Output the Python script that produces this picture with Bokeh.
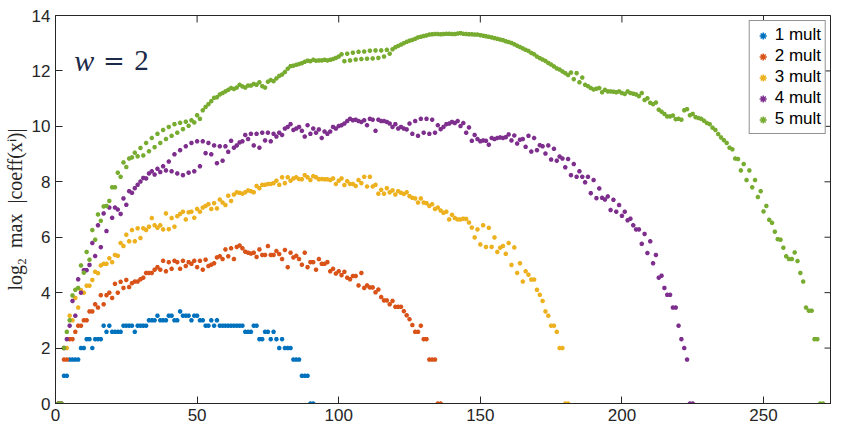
import math
from bokeh.plotting import figure
from bokeh.models import Range1d, FixedTicker, Legend, LegendItem, Label, ColumnDataSource
from bokeh.embed import file_html
from bokeh.resources import INLINE

# ---------------- data ----------------
x_ticks = [0, 50, 100, 150, 200, 250]
y_ticks = [0, 2, 4, 6, 8, 10, 12, 14]
series_names = ["1 mult", "2 mult", "3 mult", "4 mult", "5 mult"]
series_colors = ["#0072BD", "#D95319", "#EDB120", "#7E2F8E", "#77AC30"]

mult1 = [0, 0, 1, 1, 1.585, 1.585, 1.585, 1.585, 2, 2,
         2.322, 2.322, 2, 2.322, 2.322, 2.322, 2.807, 2.585, 2.807, 2.585,
         2.585, 2.585, 2.585, 2.807, 2.807, 2.807, 2.807, 2.585, 2.807, 2.807,
         2.807, 2.807, 3, 3, 3, 3.17, 3, 3, 3, 3.17,
         3.17, 3, 3, 3.322, 3.17, 3.17, 3.17, 3, 3.17, 3.17,
         3, 3, 2.807, 2.807, 3, 2.807, 3, 2.807, 2.807, 2.807,
         2.807, 2.807, 2.807, 2.807, 2.807, 2.807, 2.585, 2.585, 2.585, 2.807,
         2.807, 2.322, 2.322, 2.585, 2.585, 2.322, 2.585, 2.322, 2, 2.322,
         2, 2, 2, 1.585, 1.585, 1.585, 1, 1, 1, 0,
         0]

mult2 = [0, 0, 1.585, 1.585, 2.322, 2.322, 2.585, 2.807, 2.807, 3.0,
         3.0, 3.322, 3.322, 3.58, 3.46, 3.91, 3.58, 3.91, 4.0, 3.81,
         4.32, 4.0, 4.39, 4.17, 4.46,
         4.20, 4.34, 4.40, 4.40, 4.48, 4.54, 4.71, 4.71, 4.71, 4.83,
         4.92, 4.83, 5.15, 4.77, 5.10, 4.86, 5.15, 5.10, 4.86, 5.15,
         4.96, 5.10, 5.04, 5.15, 4.92, 5.15, 4.83, 5.19, 4.96, 5.01,
         5.06, 5.27, 5.31, 5.21, 5.56, 5.31, 5.60, 5.21, 5.65, 5.70,
         5.60, 5.48, 5.44, 5.41, 5.44, 5.29, 5.56, 5.36, 5.36, 5.68,
         5.36, 5.36, 5.50, 5.39, 5.21, 5.54, 4.92, 5.44, 5.27, 5.33,
         5.21, 5.01, 5.44, 4.92, 5.10, 5.10, 4.83, 5.21, 5.04, 5.04,
         5.10, 4.77, 4.86, 4.69, 4.77, 4.63, 4.75, 4.54, 4.48, 4.60,
         4.60, 4.26, 4.71, 4.17, 4.26, 4.19, 4.19, 4.01, 4.11, 3.84,
         3.72, 3.72, 3.58, 3.70, 3.49, 3.49, 3.49, 3.33, 3.18, 3.04,
         2.83, 2.585, 2.585, 2.807, 2.322, 2.322,
         1.585, 1.585, 1.585, 0, 0]

mult3 = [0, 0, 2.0, 2.0, 3.17, 3.0, 3.81, 3.46, 4.09, 4.0,
         4.25, 4.25, 4.46, 4.75, 4.70,
         4.98, 5.04, 5.04, 5.24, 5.10, 5.36, 5.33, 5.79, 5.68, 6.09,
         5.85, 6.26, 5.85, 6.32, 5.97, 6.32, 6.26, 6.38, 6.69, 6.43,
         6.34, 6.43, 6.28, 6.86, 6.29, 6.69, 6.38, 6.76, 6.84, 6.92,
         6.64, 6.90, 6.92, 6.70, 7.02, 6.92, 7.07, 7.13, 7.19, 7.02,
         7.23, 7.04, 7.36, 7.25, 7.16, 7.50, 7.31, 7.54, 7.62, 7.60,
         7.57, 7.62, 7.69, 7.66, 7.62, 7.85, 7.77, 7.89, 7.89, 7.92,
         7.92, 7.95, 8.04, 7.89, 8.16, 7.95, 8.16, 8.04, 8.12, 8.16,
         8.10, 8.09, 8.24, 8.16, 8.06, 8.20, 8.16, 8.09, 8.10, 8.09,
         8.09, 8.06, 8.12, 7.92, 8.04, 8.12, 7.88, 8.02, 7.92, 7.92,
         7.85, 8.06, 7.95, 8.18, 7.83, 8.18, 7.83, 7.89, 7.57, 7.71,
         7.57, 7.77, 7.62, 7.69, 7.54, 7.66, 7.60, 7.56, 7.62, 7.48,
         7.42, 7.40, 7.25, 7.40, 7.25, 7.23, 7.13, 7.19, 7.02, 7.07,
         6.96, 6.88, 6.92, 6.64, 6.81, 6.69, 6.64, 6.64, 6.67,
         6.66, 6.53, 6.35, 5.99, 6.28, 5.74, 6.43, 5.65, 6.34, 5.65,
         5.99, 5.47, 5.62, 5.68, 5.40, 5.79, 5.00, 5.63, 4.71, 5.06,
         4.40, 4.77, 4.65, 4.47, 4.47, 4.10, 3.92, 3.70, 3.322, 3.17,
         2.807, 2.807, 2.585, 2.0, 2.0,
         0, 0]

mult4 = [0, 0, 2.0, 2.322, 2.807, 3.7, 3.17, 4.48, 4.0, 4.81,
         4.81, 5.0, 5.79, 5.32, 6.43, 5.64, 6.86, 6.22, 7.07, 6.70,
         7.07, 7.0, 6.84, 7.40, 7.17, 7.66,
         7.60, 7.77, 7.89, 8.01, 8.14, 8.12, 8.30, 8.38, 8.26, 8.47,
         8.35, 8.56, 8.41, 8.73, 8.38, 8.99, 8.30, 9.14, 8.24, 9.28,
         8.33, 9.40, 8.38, 9.46, 8.56, 9.46, 9.03, 9.40, 8.99, 9.31,
         8.67, 9.28, 8.76, 9.28, 9.08, 9.48, 9.23, 9.31, 9.42, 9.46,
         9.69, 9.54, 9.73, 9.31, 9.73, 9.23, 9.77, 9.49, 9.77, 9.46,
         9.73, 9.63, 9.77, 9.69, 9.92, 9.98, 10.08, 9.87, 9.92, 9.98,
         9.84, 9.63, 10.04, 9.73, 9.92, 9.77, 9.89, 9.58, 9.81, 9.73,
         9.81, 9.98, 9.92, 10.01, 10.04, 10.10, 10.19, 10.27, 10.22, 10.24,
         10.19, 10.16, 10.22, 10.04, 10.27, 10.24, 9.84, 10.24, 10.19, 10.19,
         10.16, 10.10, 9.98, 10.08, 9.92, 9.98, 9.92, 9.89, 10.10, 9.73,
         10.19, 9.66, 10.27, 9.77, 10.27, 9.73, 10.24, 9.77,
         10.04, 9.90, 9.98, 10.08, 10.10, 10.16, 10.12, 10.19, 10.01, 10.12,
         9.77, 9.96, 9.48, 9.69, 9.54, 9.46, 9.49, 9.48, 9.34, 9.58,
         9.54, 9.58, 9.60, 9.58, 9.61, 9.71, 9.49, 9.67, 9.38, 9.52,
         9.54, 9.26, 9.66, 9.09, 9.58, 9.14, 9.32, 9.28, 9.02, 9.31,
         8.80, 9.19, 8.76, 8.91, 8.84, 8.52, 8.82, 8.24, 8.64, 8.18,
         8.38, 8.18, 7.98, 8.18, 7.59, 8.06, 7.41, 7.76, 7.42, 7.36,
         7.47, 6.98, 7.35, 6.92, 7.16, 6.77, 6.92, 6.61, 6.67, 6.43,
         6.28, 6.28, 5.76, 6.12, 5.43, 5.85, 5.06, 5.36, 4.54, 4.61,
         4.17, 3.92, 3.92, 3.46, 3.46, 2.807, 2.322, 2.0, 1.585,
         0, 0]

mult5 = [0, 0, 2.0, 2.585, 3.0, 3.9, 4.1, 4.17, 4.98, 4.72,
         5.47, 5.19, 6.26, 5.91, 6.82, 6.59, 7.11, 7.13, 7.31, 7.80,
         7.80, 8.33, 8.18, 8.70,
         8.53, 8.84, 8.88, 9.05, 8.92, 9.22, 8.95, 9.40, 9.10, 9.58,
         9.25, 9.73, 9.40, 9.87, 9.54, 9.98, 9.66, 10.08, 9.77, 10.13,
         9.90, 10.17, 10.02, 10.22, 10.14, 10.40, 10.27, 10.58, 10.70, 10.80,
         10.91, 11.03, 11.05, 11.15, 11.20, 11.26,
         11.32, 11.38, 11.35, 11.40, 11.50, 11.44, 11.40, 11.47, 11.47, 11.53,
         11.50, 11.59, 11.45, 11.40, 11.61, 11.67, 11.63, 11.73, 11.82, 11.87,
         11.96, 12.08, 12.17, 12.19, 12.22,
         12.25, 12.28, 12.33, 12.37, 12.35, 12.40, 12.37, 12.38, 12.38, 12.40,
         12.38, 12.40, 12.43, 12.47, 12.52,
         12.60, 12.35, 12.62, 12.38, 12.66, 12.41, 12.69, 12.43, 12.70, 12.44,
         12.73, 12.45, 12.74, 12.47, 12.74, 12.52, 12.76, 12.62, 12.78,
         12.85, 12.90, 12.95, 13.00, 13.05, 13.09, 13.12, 13.16, 13.21, 13.23,
         13.26, 13.28, 13.31, 13.32, 13.33, 13.33, 13.32, 13.33, 13.34, 13.34,
         13.33, 13.33, 13.35, 13.36, 13.34, 13.33, 13.32, 13.32, 13.31, 13.31,
         13.29, 13.27, 13.25, 13.23, 13.21, 13.18, 13.16, 13.13, 13.11, 13.07,
         13.04, 13.01, 12.96, 12.91, 12.86, 12.81, 12.76, 12.72, 12.65, 12.60,
         12.52, 12.46, 12.41, 12.36, 12.29, 12.23, 12.16, 12.09, 12.05, 11.98,
         11.92, 11.85,
         11.94, 11.70, 11.92, 11.59, 11.76, 11.50, 11.45, 11.38,
         11.33, 11.36, 11.38, 11.23, 11.32, 11.26, 11.26, 11.25, 11.23, 11.26,
         11.20, 11.17, 11.26, 11.20, 11.18, 11.15, 11.09, 11.20, 10.95, 11.01,
         10.85, 10.80, 10.86, 10.60, 10.53, 10.45, 10.36, 10.36, 10.39, 10.26,
         10.27, 10.24, 10.58, 10.62, 10.40, 10.45, 10.33, 10.30, 10.27, 10.20,
         10.12, 10.08, 9.95, 9.87, 9.72, 9.60, 9.50, 9.40, 9.23, 9.17,
         8.84, 8.82, 8.41, 8.64, 8.06, 8.41, 7.80, 8.06, 7.45, 7.66,
         6.93, 7.13, 6.63, 6.52, 6.20, 5.93, 5.91, 5.62, 5.31, 5.21,
         5.21, 5.45, 5.14, 4.71, 4.40, 3.46, 3.35, 3.35, 2.322, 2.322,
         0, 0]

all_series = [mult1, mult2, mult3, mult4, mult5]

# ---------------- figure ----------------
AX = "#262626"
X_MAX, Y_MAX = 274, 14
p = figure(width=831, height=423, output_backend="svg", toolbar_location=None,
           x_range=Range1d(0, X_MAX), y_range=Range1d(0, Y_MAX),
           min_border_left=50, min_border_right=0, min_border_top=15, min_border_bottom=20)
p.xgrid.visible = False
p.ygrid.visible = False
p.outline_line_color = AX
p.outline_line_width = 1
p.background_fill_color = "white"
p.border_fill_color = "white"

for ax, ticks in ((p.xaxis[0], x_ticks), (p.yaxis[0], y_ticks)):
    ax.ticker = FixedTicker(ticks=ticks)
    ax.major_tick_in = 7
    ax.major_tick_out = 0
    ax.minor_tick_line_color = None
    ax.axis_line_color = AX
    ax.major_tick_line_color = AX
    ax.major_label_text_font = "Liberation Sans"
    ax.major_label_text_color = AX
    ax.major_label_text_font_size = "17px"
    ax.major_label_standoff = 5

p.yaxis[0].axis_label = "log\u2082\u2002max\u2002|coeff(x\u2071)|"
p.yaxis[0].axis_label_text_font = "Liberation Serif"
p.yaxis[0].axis_label_text_font_style = "normal"
p.yaxis[0].axis_label_text_font_size = "20px"
p.yaxis[0].axis_label_text_color = AX
p.yaxis[0].axis_label_standoff = 3

# inward tick marks on the top and right edges of the box
p.ray(x=x_ticks, y=[Y_MAX] * len(x_ticks), length=7, length_units="screen",
      angle=-math.pi / 2, line_color=AX, line_width=1)
p.ray(x=[X_MAX] * len(y_ticks), y=y_ticks, length=7, length_units="screen",
      angle=math.pi, line_color=AX, line_width=1)

renderers = []
for ys, c in zip(all_series, series_colors):
    src = ColumnDataSource(dict(x=list(range(1, len(ys) + 1)), y=ys))
    r = p.scatter("x", "y", source=src, marker="asterisk", size=4.5,
                  line_color=c, line_width=1.5, fill_color=c)
    renderers.append(r)

legend = Legend(items=[LegendItem(label=n, renderers=[r]) for n, r in zip(series_names, renderers)],
                location="top_right")
legend.border_line_color = AX
legend.border_line_width = 1
legend.background_fill_color = "white"
legend.background_fill_alpha = 1
legend.label_text_font = "Liberation Sans"
legend.label_text_font_size = "17px"
legend.label_text_color = "#000000"
legend.padding = 4
legend.spacing = 1
legend.margin = 5
legend.label_height = 19
legend.glyph_height = 19
legend.glyph_width = 18
legend.label_standoff = 3
p.add_layout(legend)

TXT = "#1b2a48"
p.add_layout(Label(x=6.6, y=12.37, text="w", text_font="Liberation Serif", text_font_style="italic",
                   text_font_size="30px", text_color=TXT, text_baseline="alphabetic"))
p.add_layout(Label(x=16.8, y=12.37, text="=", text_font="DejaVu Serif",
                   text_font_size="26px", text_color=TXT, text_baseline="alphabetic"))
p.add_layout(Label(x=27.8, y=12.37, text="2", text_font="Liberation Serif",
                   text_font_size="29px", text_color=TXT, text_baseline="alphabetic"))

open("out.html", "w").write(file_html(p, INLINE))
